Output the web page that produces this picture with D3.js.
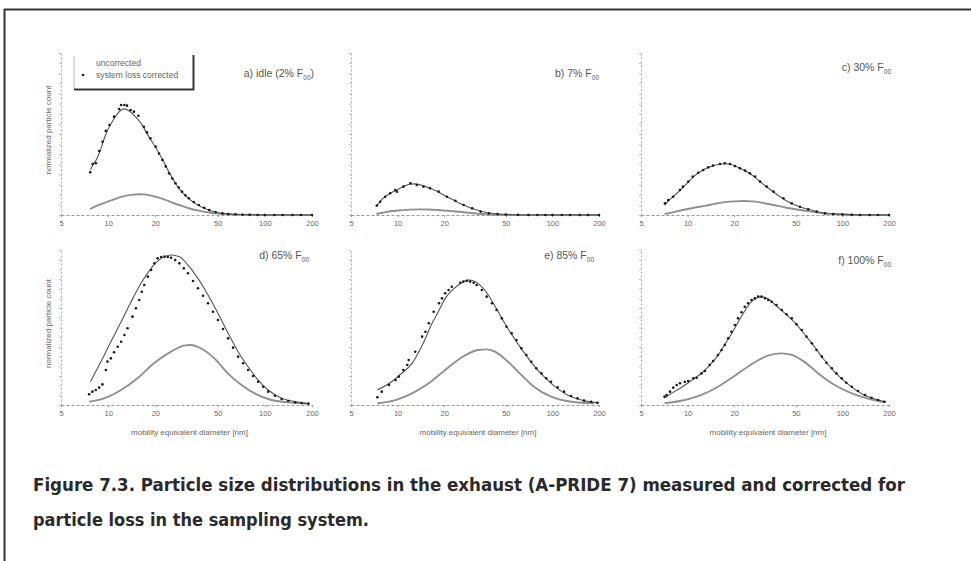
<!DOCTYPE html>
<html><head><meta charset="utf-8">
<script src="https://cdn.jsdelivr.net/npm/d3@7"></script>
<style>
html,body{margin:0;padding:0;background:#fff;}
svg{display:block;}
</style></head><body>
<svg id="chart" width="971" height="561"></svg>
<script>
// ---------------- DATA ----------------
const tickValues = [5, 10, 20, 50, 100, 200];
const tickLabels = ["5", "10", "20", "50", "100", "200"];
const panelIds = ["a", "b", "c", "d", "e", "f"];
const titleMain = ["a) idle (2% F", "b) 7% F", "c) 30% F", "d) 65% F", "e) 85% F", "f) 100% F"];
const titleSub = ["00", "00", "00", "00", "00", "00"];
const titleTail = [")", "", "", "", "", ""];
const legendLabels = ["uncorrected", "system loss corrected"];
const yAxisTitle = "normalized particle count";
const xAxisTitle = "mobility equivalent diameter [nm]";
const captionLines = [
  "Figure 7.3. Particle size distributions in the exhaust (A-PRIDE 7) measured and corrected for",
  "particle loss in the sampling system."
];

// [diameter nm, normalized count (0-100 of axis height)]
const correctedA = [[7.68,26.4],[7.96,31.5],[8.35,31.9],[8.76,39.5],[9.2,45.2],[9.66,51.9],[10.2,55.6],[10.9,60.7],[11.75,65.4],[12.1,67.9],[12.7,67.9],[13.2,67.5],[13.9,64.8],[14.6,63.8],[15.6,61.3],[16.9,54.5],[17.7,51],[18.6,47.3],[20.1,42.2],[21.1,38],[22.2,34],[23.3,30],[24.5,25.7],[25.7,22.5],[26.9,19.6],[28.2,17],[29.6,14.4],[31.1,12.2],[32.7,10.3],[35.2,8],[37.9,6.2],[41,4.5],[44.2,3.1],[48.5,1.8],[53.6,1.0],[58.5,0.6],[64.9,0.4],[72,0.2],[80,0.1],[90,0],[100,0],[115,0],[130,0],[150,0],[170,0],[200,0]];
const fitA = [[7.7,28],[8,31],[8.5,35],[9,41],[9.5,48],[10,53],[11,60],[12,64.5],[12.7,65.5],[13.5,64.5],[14.5,62],[15.5,59],[16.5,55.5],[18,49],[20,42],[22,35],[24,28],[26,22],[28,17],[30,13.5],[33,9.8],[36,7],[40,4.6],[45,2.6],[50,1.5],[60,0.6],[70,0.3],[85,0.1],[100,0],[200,0]];
const uncorrectedA = [[7.68,3.7],[8.5,5.8],[9.66,7.8],[11,9.8],[12.3,11.3],[14,12.4],[15.7,12.8],[17,12.7],[18.2,12.3],[20.5,11],[23.2,9.3],[26,7.4],[29.6,5.6],[33,4],[37.9,2.7],[43,1.7],[48.3,1.0],[55,0.6],[61,0.4],[75,0.2],[100,0],[200,0]];

const correctedB = [[7.34,5.8],[7.71,8.2],[8.31,11.3],[8.95,13.4],[9.64,15.4],[9.9,14.4],[10.9,17.5],[12.1,19.6],[13.3,18.5],[14.7,17.5],[16.2,16.5],[18.4,14.4],[20.8,11.3],[23.6,8.8],[26.7,6.2],[30.3,4.1],[34.4,2.1],[38.9,1.0],[44.2,0.6],[50,0.3],[60,0.1],[70,0],[80,0],[90,0],[100,0],[115,0],[130,0],[150,0],[170,0],[200,0]];
const fitB = [[7.3,5.5],[8,10],[9,13.5],[10,15.8],[11,17.8],[12,19],[13,19.2],[14,18.6],[16,16.7],[18,14.6],[20,12.2],[23,9.2],[26,6.6],[30,4.2],[35,2.2],[40,1.1],[45,0.6],[55,0.2],[70,0],[200,0]];
const uncorrectedB = [[7.3,0.6],[8,1.4],[9,2.3],[10,2.8],[12,3.3],[14,3.5],[16,3.4],[18,3.1],[21,2.6],[25,2.0],[30,1.2],[35,0.6],[42,0.2],[55,0],[200,0]];

const correctedC = [[7.14,7.2],[7.5,9.3],[8.06,11.3],[8.92,15.4],[9.33,17.5],[10.1,20.6],[10.8,23.7],[11.7,26.1],[12.6,27.8],[13.6,29.4],[14.6,30.5],[16.2,31.5],[17.4,31.9],[18.8,31.5],[20.2,30.2],[21.8,28.8],[23.5,27.4],[25.3,25.7],[27.3,23.7],[29.4,20.6],[32.4,17.5],[35.9,14.4],[41.6,10.3],[47,7.2],[53.2,5.1],[60.2,3.5],[68.2,2.1],[77.1,1.0],[87.3,0.6],[100,0.3],[115,0.1],[130,0],[150,0],[170,0],[200,0]];
const fitC = [[7.1,6],[7.5,8.5],[8,11],[9,15.5],[10,20],[11,23.8],[12,26.5],[13,28.5],[14.5,30.3],[16,31.3],[17.5,31.6],[19,31.2],[21,29.7],[23,27.8],[25.5,25.3],[28,22.3],[31,18.8],[35,15],[40,11],[45,8],[50,6],[60,3.5],[70,1.9],[85,0.8],[100,0.4],[130,0.1],[200,0]];
const uncorrectedC = [[7.1,0.6],[8,1.6],[9.3,3.1],[11,4.5],[13.2,5.8],[15,6.9],[16.9,7.8],[20,8.4],[22.9,8.6],[26,8.4],[29.4,7.8],[35.9,6.2],[43.7,4.5],[53.2,3.1],[64.6,1.9],[75,1.0],[87,0.6],[110,0.2],[150,0],[200,0]];

const correctedD = [[7.56,6.9],[7.94,8.6],[8.34,9.7],[8.76,11.2],[9.2,13.3],[9.67,22.6],[9.9,28],[10.4,30.1],[10.9,34],[11.5,37.6],[12.1,40.8],[12.7,45.2],[13.3,49.5],[14.3,57],[15.05,62.4],[15.8,67.7],[16.4,73.1],[17,77.4],[17.9,82.8],[18.8,87.1],[19.7,91.4],[20.7,94.6],[21.8,95.5],[22.9,95.7],[24,95.5],[25.2,95],[26.8,93.5],[28.5,91.4],[30.4,88.2],[32.3,85],[34.8,80],[37.4,75.3],[40.3,70.5],[43.4,65.6],[46.7,60.2],[50.2,54.8],[54.1,49],[58.3,43],[62.7,37],[67.5,31.2],[72.7,26.9],[78.2,22.6],[84.2,18.7],[90.7,15],[97.6,11.8],[105,8.6],[116,6.0],[128,3.9],[141,2.6],[156,1.7],[172,1.3],[190,0.9]];
const fitD = [[7.7,15],[9,28],[10.4,40.8],[12.1,53.7],[14,66.6],[16.2,78.5],[18.8,88.2],[21.8,94.6],[25.2,96.8],[28.5,95.7],[32.3,90.3],[37.4,81.7],[43.4,71],[50.2,59.2],[58.3,46.3],[67.5,34.4],[78.2,24.7],[90.7,16.1],[105,9.7],[128,4.3],[156,2.2],[190,0.9]];
const uncorrectedD = [[7.55,2.1],[9.4,4.3],[12.1,9.7],[15.4,17.2],[19.6,26.9],[25.2,34.4],[30.4,38.3],[33.6,38.7],[39,36.6],[47.6,30.1],[58,20.4],[71,12.9],[86,7.5],[110,3.2],[141,1.7],[190,0.8]];

const correctedE = [[7.4,5],[7.9,8.6],[8.8,12.9],[9.7,16.1],[10.2,18.3],[10.9,22.6],[11.54,25.8],[11.8,29],[13,34.4],[14.4,44.1],[15.13,47.3],[15.9,52.7],[17.1,60.2],[18.5,65.6],[19.35,68.8],[20.3,72.1],[21.35,74.2],[22.4,76.3],[25.4,78.9],[26.6,79.6],[28,80.2],[29.4,79.6],[31,78.9],[32.4,77.4],[35,74.2],[37.6,69.9],[40.7,65.6],[43.6,61.3],[47.1,55.9],[50.5,50.5],[54.6,46.3],[58.6,41.9],[63,36.6],[67.9,32.3],[73,27.9],[78.7,23.7],[85,20.4],[91.2,17.2],[98,15],[108,11.4],[119,8.6],[132,5.8],[145,4.3],[160,2.8],[178,2.1],[195,1.5]];
const fitE = [[7.4,9.7],[9,14.5],[10.5,20],[12.4,26.9],[14.5,39],[16.7,52.7],[18.5,61],[20.3,68.8],[22.5,74],[24.7,77.4],[27,79.8],[29,80.6],[31,80],[33,78.5],[35.5,75.5],[38.5,71],[43,63],[50,51.5],[58,41.5],[67,32.5],[78,24],[90,17.5],[105,11.5],[125,6.5],[150,3.5],[175,2],[200,1.2]];
const uncorrectedE = [[7.4,1.1],[9.7,3.2],[12.4,7.5],[15.9,14],[20.3,22.6],[26,30.8],[33,35.5],[37.4,35.9],[42.5,34.4],[51.7,27.9],[63,19.4],[76,11.8],[98,5.4],[133,2.1],[186,1.1]];

const correctedF = [[7.1,5.4],[7.32,6.5],[7.7,8.6],[8.08,11.2],[8.5,12.9],[8.93,14],[9.6,15],[10.1,15.5],[10.9,17.2],[11.43,17.6],[12.3,20.4],[12.94,21.9],[13.9,25.8],[14.64,28.4],[15.7,32.3],[16.57,35.5],[17.4,38.7],[18.3,43],[19.2,47.3],[20.2,51.6],[21.2,55.9],[22.3,59.8],[23.4,63.4],[24.6,65.6],[25.9,67.7],[27.2,68.8],[28.6,69.9],[30,69.9],[31.6,68.8],[33.2,67.7],[34.9,66.6],[37.5,64.5],[40.6,61.3],[43.6,58.5],[47.1,55.9],[50.5,52.1],[54.7,48.4],[58.6,44.1],[63.5,39.8],[68,35.5],[73.7,31.2],[78.9,27.3],[85.5,23.7],[91.5,20.4],[99,17.2],[106,14.4],[115,11.8],[126,9],[140,6.5],[154,4.7],[170,3.2],[187,2.1]];
const fitF = [[7.1,4.5],[8,8],[9,11],[10,14],[11,17],[12.3,20.5],[14,26],[15.7,32],[17.5,39.5],[19.5,47],[21.5,54.5],[23.5,61],[25.5,66],[28,69],[30.5,69.8],[33,68.5],[36,65.5],[40,61.5],[45,57],[50,52.5],[57,45.5],[65,38.5],[75,30],[86,23],[100,16.5],[115,11.5],[135,7],[160,4],[190,2]];
const uncorrectedF = [[7.1,1.1],[9.6,3.2],[12.3,6.5],[15.7,11.8],[20.2,18.9],[25.9,26.3],[33,31.8],[40.6,33.3],[47.1,32.3],[57.4,27.5],[69.8,20.4],[89.2,12.9],[115,7.5],[148,3.9],[187,1.7]];

const correctedSeries = [correctedA, correctedB, correctedC, correctedD, correctedE, correctedF];
const fitSeries = [fitA, fitB, fitC, fitD, fitE, fitF];
const uncorrectedSeries = [uncorrectedA, uncorrectedB, uncorrectedC, uncorrectedD, uncorrectedE, uncorrectedF];

// ---------------- LAYOUT ----------------
const colRanges = [[61, 312], [351, 599], [641, 889]];
const rowRanges = [[215, 53], [405, 250]];
const titlePos = [[314, 77], [599, 77], [891, 71], [309, 259], [594, 259], [891, 264]];

const svg = d3.select("#chart");
const FONT = "'Liberation Sans', Arial, sans-serif";

// page frame
svg.append("line").attr("x1", 4).attr("x2", 971).attr("y1", 9.5).attr("y2", 9.5)
  .attr("stroke", "#333").attr("stroke-width", 2);
svg.append("line").attr("x1", 4.5).attr("x2", 4.5).attr("y1", 9).attr("y2", 561)
  .attr("stroke", "#333").attr("stroke-width", 2);

panelIds.forEach((id, i) => {
  const col = i % 3, row = Math.floor(i / 3);
  const x = d3.scaleLog().domain([5, 200]).range(colRanges[col]);
  const y = d3.scaleLinear().domain([0, 100]).range(rowRanges[row]);
  const g = svg.append("g").attr("class", "panel-" + id);

  // y axis (dashed, unlabeled)
  const ya = g.append("g").attr("transform", `translate(${colRanges[col][0]},0)`)
    .call(d3.axisLeft(y).tickValues(d3.range(0, 101, 6.25)).tickFormat("").tickSize(2).tickSizeOuter(0));
  ya.select(".domain").attr("stroke", "#aaa").attr("stroke-dasharray", "2,2");
  ya.selectAll(".tick line").attr("stroke", "#bbb");

  // x axis
  const xa = g.append("g").attr("transform", `translate(0,${rowRanges[row][0]})`)
    .call(d3.axisBottom(x).tickValues(tickValues).tickFormat((d, k) => tickLabels[k]).tickSize(2).tickSizeOuter(0));
  xa.select(".domain").attr("stroke", "#999").attr("stroke-dasharray", "3,2");
  xa.selectAll(".tick line").attr("stroke", "#999");
  xa.selectAll(".tick text").attr("fill", "#666").attr("font-size", 7.5).attr("font-family", FONT).attr("dy", "0.85em");

  const line = d3.line().x(d => x(d[0])).y(d => y(d[1])).curve(d3.curveMonotoneX);

  // uncorrected
  g.append("path").datum(uncorrectedSeries[i]).attr("d", line)
    .attr("fill", "none").attr("stroke", "#909090").attr("stroke-width", 1.9);
  // fit through corrected
  g.append("path").datum(fitSeries[i]).attr("d", line)
    .attr("fill", "none").attr("stroke", "#555").attr("stroke-width", 1.1);
  // corrected points
  g.selectAll("circle.pt").data(correctedSeries[i]).join("circle")
    .attr("class", "pt").attr("cx", d => x(d[0])).attr("cy", d => y(d[1]))
    .attr("r", 1.3).attr("fill", "#1a1a1a");

  // title
  const t = g.append("text").attr("x", titlePos[i][0]).attr("y", titlePos[i][1])
    .attr("text-anchor", "end").attr("font-family", FONT).attr("font-size", 10.5).attr("fill", "#555");
  t.append("tspan").text(titleMain[i]);
  t.append("tspan").attr("font-size", 6.5).attr("dy", 2.5).text(titleSub[i]);
  if (titleTail[i]) t.append("tspan").attr("dy", -2.5).text(titleTail[i]);

  // y axis title for first column
  if (col === 0) {
    const cy = (rowRanges[row][0] + rowRanges[row][1]) / 2 - 4;
    g.append("text").attr("transform", `translate(51,${cy}) rotate(-90)`)
      .attr("text-anchor", "middle").attr("font-family", FONT).attr("font-size", 8)
      .attr("fill", "#666").text(yAxisTitle);
  }
  // x axis title for bottom row
  if (row === 1) {
    g.append("text").attr("x", (colRanges[col][0] + colRanges[col][1]) / 2 + 3).attr("y", 435)
      .attr("text-anchor", "middle").attr("font-family", FONT).attr("font-size", 8)
      .attr("fill", "#666").text(xAxisTitle);
  }
});

// legend (panel a)
const lg = svg.append("g");
lg.append("line").attr("x1", 74).attr("x2", 74).attr("y1", 56).attr("y2", 89).attr("stroke", "#bbb");
lg.append("line").attr("x1", 74).attr("x2", 194).attr("y1", 89.5).attr("y2", 89.5).attr("stroke", "#333").attr("stroke-width", 2);
lg.append("line").attr("x1", 193.5).attr("x2", 193.5).attr("y1", 55).attr("y2", 90).attr("stroke", "#333").attr("stroke-width", 2);
lg.append("text").attr("x", 96).attr("y", 66).attr("font-family", FONT).attr("font-size", 8.5)
  .attr("fill", "#666").text(legendLabels[0]);
lg.append("circle").attr("cx", 83).attr("cy", 75).attr("r", 1.3).attr("fill", "#222");
lg.append("text").attr("x", 96).attr("y", 78).attr("font-family", FONT).attr("font-size", 8.5)
  .attr("fill", "#666").text(legendLabels[1]);

// caption
const capFont = "'Liberation Sans Narrow', 'DejaVu Sans Condensed', 'Open Sans', sans-serif";
const capWidths = [872, 336];
const capY = [491, 526];
captionLines.forEach((s, k) => {
  svg.append("text").attr("x", 33).attr("y", capY[k])
    .attr("font-family", capFont).attr("font-weight", "bold").attr("font-size", 18)
    .attr("fill", "#2a2a2a").attr("textLength", capWidths[k]).attr("lengthAdjust", "spacingAndGlyphs")
    .text(s);
});
</script>
</body></html>
